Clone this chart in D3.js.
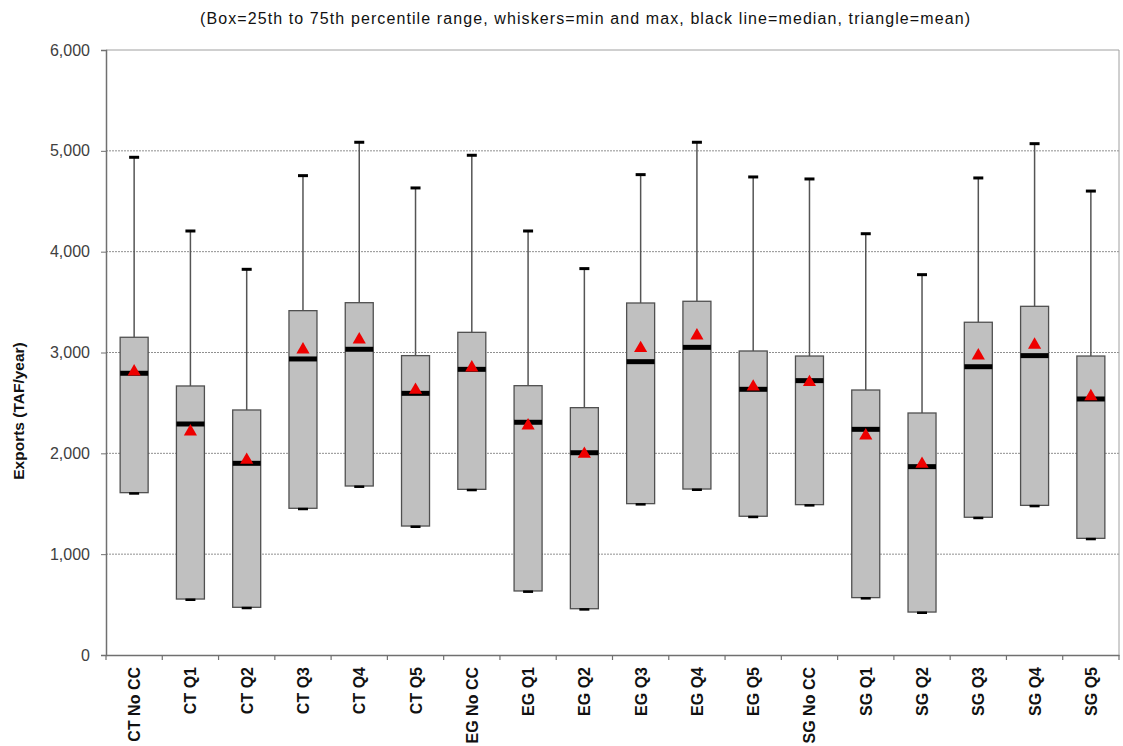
<!DOCTYPE html>
<html><head><meta charset="utf-8">
<script src="https://cdn.jsdelivr.net/npm/d3@7"></script>
<style>body{margin:0;background:#fff}svg{display:block}</style>
</head><body>
<svg id="c" width="1123" height="746"></svg>
<script>
const categories = ["CT No CC","CT Q1","CT Q2","CT Q3","CT Q4","CT Q5","EG No CC","EG Q1","EG Q2","EG Q3","EG Q4","EG Q5","SG No CC","SG Q1","SG Q2","SG Q3","SG Q4","SG Q5"];
const maxVals    = [4936,4205,3825,4754,5085,4632,4956,4205,3832,4764,5085,4741,4721,4178,3772,4731,5071,4601];
const q3Vals     = [3151,2668,2430,3415,3494,2969,3200,2671,2453,3491,3508,3015,2965,2628,2400,3300,3458,2965];
const medianVals = [2794,2291,1901,2936,3032,2595,2833,2308,2006,2909,3051,2635,2721,2238,1868,2859,2969,2539];
const meanVals   = [2800,2205,1924,3018,3117,2618,2840,2264,1983,3032,3157,2650,2695,2165,1884,2959,3065,2555];
const q1Vals     = [1610,555,473,1455,1676,1279,1643,635,459,1501,1646,1376,1491,569,426,1366,1484,1157];
const minVals    = [1602,548,466,1448,1669,1272,1636,628,452,1494,1639,1369,1484,562,419,1359,1477,1150];
const yTicks = [0,1000,2000,3000,4000,5000,6000];
const titleText = "(Box=25th to 75th percentile range, whiskers=min and max, black line=median, triangle=mean)";
const yLabel = "Exports (TAF/year)";

const svg = d3.select("#c");
const L = 106, R = 1119, T = 50, B = 655;
const x = d3.scaleBand().domain(categories).range([L, R]);
const y = d3.scaleLinear().domain([0, 6000]).range([B, T]);
const fmt = d3.format(",");
const FONT = "Liberation Sans, Arial, sans-serif";

// gridlines
svg.append("g").selectAll("line").data(yTicks.filter(d => d > 0 && d < 6000)).join("line")
  .attr("x1", L).attr("x2", R).attr("y1", d => y(d)).attr("y2", d => y(d))
  .attr("stroke", "#909090").attr("stroke-width", 1).attr("stroke-dasharray", "2,1");
// top & right border
svg.append("line").attr("x1", L).attr("x2", R).attr("y1", y(6000)).attr("y2", y(6000)).attr("stroke", "#a0a0a0");
svg.append("line").attr("x1", R).attr("x2", R).attr("y1", y(6000)).attr("y2", B).attr("stroke", "#a0a0a0");

// y axis
const ya = svg.append("g").attr("transform", `translate(${L},0)`)
  .call(d3.axisLeft(y).tickValues(yTicks).tickFormat(fmt).tickSize(5).tickPadding(11));
ya.select(".domain").attr("stroke", "#707070").attr("stroke-width", 1.5);
ya.selectAll(".tick line").attr("stroke", "#707070");
ya.selectAll("text").attr("font-family", FONT).attr("font-size", 16).attr("fill", "#404040");

// x axis
const xa = svg.append("g").attr("transform", `translate(0,${B})`)
  .call(d3.axisBottom(x).tickSize(0).tickFormat(""));
xa.select(".domain").attr("stroke", "#707070").attr("stroke-width", 1.5);
const bounds = categories.map((c) => x(c)).concat([R]);
svg.append("g").selectAll("line").data(bounds).join("line")
  .attr("x1", d => d).attr("x2", d => d).attr("y1", B).attr("y2", B + 5)
  .attr("stroke", "#707070").attr("stroke-width", 1.2);
svg.append("g").selectAll("text").data(categories).join("text")
  .attr("transform", d => `translate(${x(d) + x.bandwidth() / 2 + 6},${B + 12}) rotate(-90)`)
  .attr("text-anchor", "end")
  .attr("font-family", FONT).attr("font-size", 16).attr("font-weight", "bold")
  .attr("fill", "#111").text(d => d);

const bw = 28, cap = 10;
const g = svg.append("g");
categories.forEach((c, i) => {
  const cx = x(c) + x.bandwidth() / 2;
  g.append("line").attr("x1", cx).attr("x2", cx).attr("y1", y(maxVals[i])).attr("y2", y(q3Vals[i]))
    .attr("stroke", "#555").attr("stroke-width", 1.5);
  g.append("line").attr("x1", cx).attr("x2", cx).attr("y1", y(q1Vals[i])).attr("y2", y(minVals[i]))
    .attr("stroke", "#555").attr("stroke-width", 1.5);
  g.append("rect").attr("x", cx - bw / 2).attr("y", y(q3Vals[i])).attr("width", bw)
    .attr("height", y(q1Vals[i]) - y(q3Vals[i]))
    .attr("fill", "#c0c0c0").attr("stroke", "#505050").attr("stroke-width", 1.3);
  g.append("line").attr("x1", cx - cap / 2).attr("x2", cx + cap / 2).attr("y1", y(maxVals[i])).attr("y2", y(maxVals[i]))
    .attr("stroke", "#000").attr("stroke-width", 3);
  g.append("line").attr("x1", cx - cap / 2).attr("x2", cx + cap / 2).attr("y1", y(minVals[i])).attr("y2", y(minVals[i]))
    .attr("stroke", "#000").attr("stroke-width", 2.5);
  g.append("line").attr("x1", cx - bw / 2).attr("x2", cx + bw / 2).attr("y1", y(medianVals[i])).attr("y2", y(medianVals[i]))
    .attr("stroke", "#000").attr("stroke-width", 5);
  g.append("path").attr("d", d3.symbol().type(d3.symbolTriangle).size(75)())
    .attr("transform", `translate(${cx},${y(meanVals[i]) - 1})`)
    .attr("fill", "#ee0000");
});

// title
svg.append("text").attr("x", 200).attr("y", 24)
  .attr("font-family", FONT).attr("font-size", 16).attr("fill", "#111")
  .attr("textLength", 770).attr("lengthAdjust", "spacing")
  .text(titleText);
// y label
svg.append("text").attr("transform", `translate(24,411) rotate(-90)`).attr("text-anchor", "middle")
  .attr("font-family", FONT).attr("font-size", 15.5).attr("font-weight", "bold")
  .attr("fill", "#111").text(yLabel);
</script>
</body></html>
